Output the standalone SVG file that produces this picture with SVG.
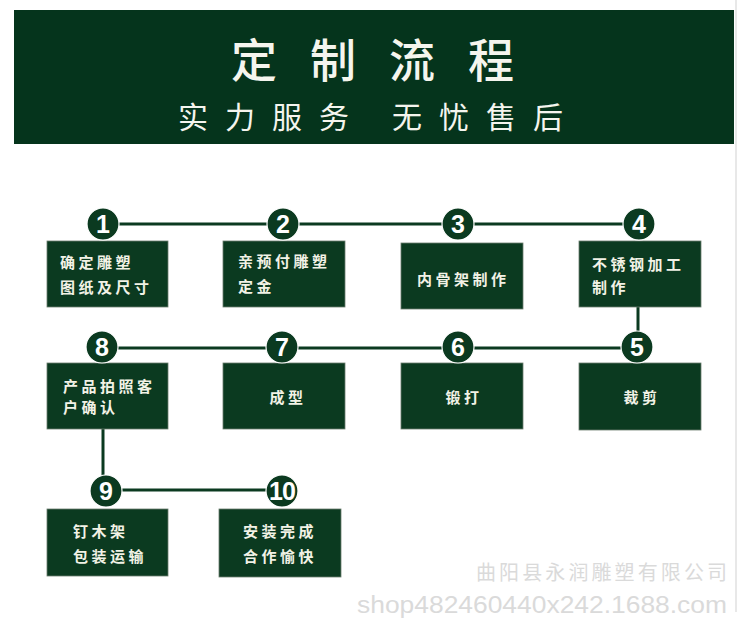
<svg xmlns="http://www.w3.org/2000/svg" width="750" height="635" viewBox="0 0 750 635">
<style>
.box{fill:#0b3a20;stroke:#6b7d6e;stroke-width:0.8}
.num{fill:#0b3a20;stroke:#ffffff;stroke-width:1.2}
.n{font-family:"Liberation Sans",Arial,sans-serif;font-size:25px;font-weight:bold;fill:#ffffff;text-anchor:middle}
.t{font-family:"Noto Sans CJK SC","Noto Sans CJK JP",sans-serif;font-size:15px;font-weight:bold;fill:#f2f2e6;letter-spacing:3.5px}
.tc{text-anchor:middle}
.ln{stroke:#0b3a20;stroke-width:3;fill:none}
.hd{font-family:"Noto Sans CJK SC","Noto Sans CJK JP",sans-serif;fill:#f5f5ee}
</style>
<rect width="750" height="635" fill="#ffffff"/>
<line x1="736" y1="0" x2="736" y2="612" stroke="#d9d9d9" stroke-width="1.2"/>
<g id="header">
<rect x="14" y="10" width="720" height="134" fill="#05341c"/>
<text class="hd" x="231" y="77" font-size="46" font-weight="500" letter-spacing="33">定制流程</text>
<text class="hd" x="178" y="128" font-size="30" letter-spacing="17">实力服务</text>
<text class="hd" x="392" y="128" font-size="30" letter-spacing="17">无忧售后</text>
</g>
<g id="connectors">
<line class="ln" x1="103" y1="224" x2="639" y2="224"/>
<line class="ln" x1="638" y1="307" x2="638" y2="347"/>
<line class="ln" x1="102" y1="348" x2="637" y2="348"/>
<line class="ln" x1="103" y1="429" x2="103" y2="490"/>
<line class="ln" x1="106" y1="490" x2="282" y2="490"/>
</g>
<g id="step1">
<rect class="box" x="47" y="241" width="121" height="66"/>
<circle class="num" cx="103" cy="224" r="16"/>
<text class="n" x="103" y="233">1</text>
<text class="t" x="60" y="268">确定雕塑</text>
<text class="t" x="60" y="293">图纸及尺寸</text>
</g>
<g id="step2">
<rect class="box" x="223" y="241" width="122" height="66"/>
<circle class="num" cx="283" cy="224" r="16"/>
<text class="n" x="283" y="233">2</text>
<text class="t" x="238" y="267">亲预付雕塑</text>
<text class="t" x="238" y="292">定金</text>
</g>
<g id="step3">
<rect class="box" x="401" y="243" width="122" height="66"/>
<circle class="num" cx="458" cy="224" r="16"/>
<text class="n" x="458" y="233">3</text>
<text class="t" x="417" y="285">内骨架制作</text>
</g>
<g id="step4">
<rect class="box" x="579" y="241" width="122" height="66"/>
<circle class="num" cx="639" cy="224" r="16"/>
<text class="n" x="639" y="233">4</text>
<text class="t" x="592" y="270">不锈钢加工</text>
<text class="t" x="592" y="293">制作</text>
</g>
<g id="step5">
<rect class="box" x="579" y="363" width="122" height="67"/>
<circle class="num" cx="637" cy="347" r="16"/>
<text class="n" x="637" y="356">5</text>
<text class="t tc" x="642" y="403">裁剪</text>
</g>
<g id="step6">
<rect class="box" x="401" y="363" width="122" height="66"/>
<circle class="num" cx="458" cy="347" r="16"/>
<text class="n" x="458" y="356">6</text>
<text class="t tc" x="464" y="403">锻打</text>
</g>
<g id="step7">
<rect class="box" x="223" y="363" width="122" height="66"/>
<circle class="num" cx="282" cy="347" r="16"/>
<text class="n" x="282" y="356">7</text>
<text class="t tc" x="288" y="403">成型</text>
</g>
<g id="step8">
<rect class="box" x="47" y="363" width="121" height="66"/>
<circle class="num" cx="102" cy="347" r="16"/>
<text class="n" x="102" y="356">8</text>
<text class="t" x="63" y="392">产品拍照客</text>
<text class="t" x="63" y="413">户确认</text>
</g>
<g id="step9">
<rect class="box" x="47" y="509" width="121" height="67"/>
<circle class="num" cx="106" cy="491" r="16"/>
<text class="n" x="106" y="500">9</text>
<text class="t" x="73" y="537">钉木架</text>
<text class="t" x="73" y="562">包装运输</text>
</g>
<g id="step10">
<rect class="box" x="219" y="509" width="122" height="68"/>
<circle class="num" cx="282" cy="491" r="16"/>
<text class="n" x="282" y="500" letter-spacing="-1">10</text>
<text class="t" x="243" y="537">安装完成</text>
<text class="t" x="243" y="562">合作愉快</text>
</g>
<g id="watermark">
<text x="476" y="580" font-family="'Noto Sans CJK SC',sans-serif" font-size="20" fill="#dadada" textLength="251" lengthAdjust="spacing">曲阳县永润雕塑有限公司</text>
<text x="357" y="613" font-family="'Liberation Sans',Arial,sans-serif" font-size="23" fill="#dadada" textLength="370" lengthAdjust="spacingAndGlyphs">shop482460440x242.1688.com</text>
</g>
</svg>
